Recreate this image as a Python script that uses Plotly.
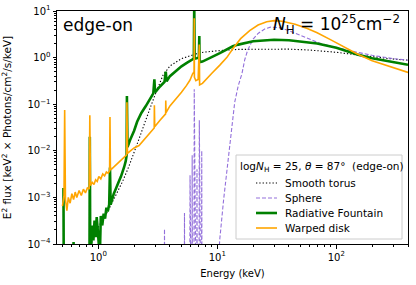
import plotly.graph_objects as go

# ---------------- data ----------------
torus_E = [0.5, 0.7, 0.85, 0.91, 1.0, 1.2, 1.4, 1.6, 1.8, 2.0, 2.2, 2.5, 3.0, 3.5, 4.0, 5.0,
           6.0, 6.3, 6.37, 6.4, 6.43, 6.6, 7.0, 7.1, 7.3, 8.0, 10, 15, 20, 30, 40, 60, 100,
           150, 200, 300, 400]
torus_F = [1e-7, 1e-6, 8e-5, 1.4e-4, 2.3e-4, 5e-4, 1.1e-3, 2.2e-3, 4.5e-3, 9e-3, 0.018, 0.045,
           0.16, 0.42, 0.66, 0.95, 1.12, 1.15, 1.16, 2.8, 1.17, 1.2, 1.22, 1.25, 1.28, 1.32,
           1.4, 1.5, 1.52, 1.53, 1.52, 1.45, 1.3, 1.14, 1.04, 0.93, 0.88]

sphere_E = [3.55, 3.6, 3.65, 5.25, 5.3, 5.35, 5.85, 5.9, 5.95, 6.1, 6.15, 6.2, 6.35, 6.4, 6.45,
            6.7, 6.75, 6.8, 7.0, 7.06, 7.1, 7.35, 7.4, 7.45, 10.0, 10.5, 11.3, 12.2, 13.0, 14.0,
            15.0, 16.1, 17.0, 18.0, 20, 22, 25, 28, 33, 40, 50, 60, 70, 90, 120, 150, 200,
            300, 400]
sphere_F = [1e-7, 2.1e-4, 1e-7, 1e-7, 4.6e-4, 1e-7, 1e-7, 3e-3, 1e-7, 1e-7, 8e-3, 1e-7, 1e-7,
            0.21, 1e-7, 1e-7, 4e-3, 1e-7, 1e-7, 0.045, 1e-7, 1e-7, 0.01, 1e-7, 2e-5, 1.3e-4,
            9e-4, 5e-3, 0.02, 0.11, 0.25, 0.45, 0.9, 1.45, 2.5, 3.3, 4.1, 4.5, 4.4, 3.8, 3.0,
            2.45, 2.1, 1.75, 1.45, 1.3, 1.12, 0.95, 0.88]

fountain_E = [0.51, 0.515, 0.61, 0.62, 0.63, 0.84, 0.849, 0.855, 0.87, 0.89, 0.91, 0.93, 0.95,
              0.97, 0.99, 1.01, 1.03, 1.05, 1.08, 1.11, 1.14, 1.17, 1.2, 1.235, 1.254, 1.27,
              1.3, 1.35, 1.4, 1.45, 1.5, 1.55, 1.6, 1.65, 1.7, 1.73, 1.74, 1.76, 1.85, 2.0,
              2.12, 2.3, 2.5, 2.7, 2.9, 2.96, 3.0, 3.3, 3.6, 3.69, 3.75, 4.0, 4.5, 5.0, 5.5,
              5.9, 6.2, 6.35, 6.4, 6.45, 6.7, 7.0, 7.06, 7.1, 7.5, 8.3, 9.0, 10.5, 13.5, 15,
              20, 25, 30, 40, 50, 69, 100, 150, 200, 300, 400]
fountain_F = [1.6e-3, 1e-6, 1e-6, 1.1e-4, 1e-6, 1e-6, 0.02, 1.5e-4, 8e-5, 2.5e-4, 1.2e-4,
              3.2e-4, 1.4e-4, 3.8e-4, 2e-4, 1e-4, 5e-5, 4e-4, 2.5e-4, 4.5e-4, 3.5e-4, 6e-4,
              5e-4, 7e-4, 4.4e-3, 7e-4, 9e-4, 1.2e-3, 1.5e-3, 1.8e-3, 2.3e-3, 2.8e-3, 3.5e-3,
              4.5e-3, 6e-3, 8e-3, 0.15, 0.012, 0.017, 0.027, 0.042, 0.065, 0.09, 0.13, 0.17,
              0.34, 0.18, 0.24, 0.3, 0.5, 0.31, 0.4, 0.52, 0.65, 0.76, 0.85, 0.9, 0.95, 15,
              0.95, 0.97, 1.0, 2.9, 0.8, 0.82, 0.92, 1.02, 1.25, 1.75, 1.9, 2.25, 2.38, 2.42,
              2.35, 2.22, 2.0, 1.62, 1.17, 0.97, 0.8, 0.7]

warped_E = [0.50, 0.515, 0.522, 0.53, 0.545, 0.56, 0.58, 0.60, 0.62, 0.64, 0.66, 0.69, 0.72,
            0.75, 0.78, 0.81, 0.84, 0.849, 0.86, 0.89, 0.92, 0.95, 0.98, 1.01, 1.05, 1.09,
            1.13, 1.17, 1.21, 1.245, 1.254, 1.265, 1.3, 1.36, 1.42, 1.5, 1.58, 1.66, 1.73,
            1.74, 1.76, 1.85, 2.0, 2.2, 2.5, 2.8, 2.95, 2.96, 2.98, 3.3, 3.68, 3.69, 3.71,
            4.0, 4.5, 5.0, 5.5, 5.9, 6.2, 6.38, 6.4, 6.42, 6.6, 6.9, 7.06, 7.1, 7.5, 8.3,
            9.0, 10.5, 12, 13.5, 15.7, 18.7, 22, 26, 30, 35, 45, 57, 69, 90, 110, 150, 200,
            300, 400]
warped_F = [6.5e-4, 1.1e-3, 0.075, 9e-4, 5.2e-4, 1.0e-3, 7.5e-4, 1.2e-3, 9e-4, 1.3e-3, 1.0e-3,
            1.4e-3, 1.1e-3, 1.5e-3, 1.25e-3, 1.6e-3, 1.5e-3, 0.058, 1.8e-3, 2.1e-3, 1.9e-3,
            2.4e-3, 2.2e-3, 2.8e-3, 2.5e-3, 3.2e-3, 2.9e-3, 3.5e-3, 3.3e-3, 3.7e-3, 0.053,
            3.9e-3, 4.1e-3, 4.6e-3, 5.0e-3, 5.6e-3, 6.4e-3, 7.4e-3, 8.2e-3, 0.11, 8.8e-3,
            0.0098, 0.0115, 0.013, 0.019, 0.027, 0.031, 0.095, 0.033, 0.045, 0.062, 0.12,
            0.066, 0.092, 0.13, 0.18, 0.25, 0.33, 0.45, 0.5, 7.0, 0.38, 0.32, 0.34, 1.9, 0.26,
            0.28, 0.38, 0.46, 0.69, 1.0, 1.55, 2.55, 3.8, 5.0, 5.9, 6.2, 6.05, 5.2, 4.2, 3.4,
            2.4, 1.8, 1.2, 0.86, 0.6, 0.48]

series_names = ["Smooth torus", "Sphere", "Radiative Fountain", "Warped disk"]
legend_title = "log<i>N</i><sub>H</sub> = 25, <i>\u03b8</i> = 87\u00b0  (edge-on)"

x_major = [1, 10, 100]
x_major_text = ["10<sup>0</sup>", "10<sup>1</sup>", "10<sup>2</sup>"]
x_minor = [0.5, 0.6, 0.7, 0.8, 0.9, 2, 3, 4, 5, 6, 7, 8, 9, 20, 30, 40, 50, 60, 70, 80, 90,
           200, 300, 400]
y_major = [1e-4, 1e-3, 1e-2, 1e-1, 1, 10]
y_major_text = ["10<sup>\u22124</sup>", "10<sup>\u22123</sup>", "10<sup>\u22122</sup>",
                "10<sup>\u22121</sup>", "10<sup>0</sup>", "10<sup>1</sup>"]
y_minor = [m * 10.0 ** e for e in range(-4, 1) for m in range(2, 10)]

FONT = "DejaVu Sans"
styles = [dict(color="black", width=1.1, dash="1.3px,2px"),
          dict(color="mediumpurple", width=1.1, dash="4px,2px"),
          dict(color="green", width=2.6),
          dict(color="orange", width=1.6)]

fig = go.Figure()
for xs, ys, nm, st in zip([torus_E, sphere_E, fountain_E, warped_E],
                          [torus_F, sphere_F, fountain_F, warped_F], series_names, styles):
    fig.add_trace(go.Scatter(x=xs, y=ys, mode="lines", name=nm, line=st, showlegend=False))

axis_common = dict(type="log", showgrid=False, zeroline=False, showline=True,
                   linecolor="black", linewidth=1, mirror=True, ticks="outside",
                   ticklen=3.5, tickwidth=0.8, tickcolor="black",
                   tickfont=dict(family=FONT, size=10, color="black"))

fig.update_xaxes(**axis_common, range=[-0.3468, 2.602], tickmode="array",
                 tickvals=x_major, ticktext=x_major_text, automargin=True,
                 minor=dict(tickmode="array", tickvals=x_minor, ticks="outside",
                            ticklen=2, tickwidth=0.6, tickcolor="black"),
                 title=dict(text="Energy (keV)", font=dict(family=FONT, size=10, color="black"),
                            standoff=8))
fig.update_yaxes(**axis_common, range=[-4, 1], tickmode="array",
                 tickvals=y_major, ticktext=y_major_text, automargin=False,
                 minor=dict(tickmode="array", tickvals=y_minor, ticks="outside",
                            ticklen=2, tickwidth=0.6, tickcolor="black"),
                 title=dict(text="E<sup>2</sup> flux [keV<sup>2</sup> \u00d7 Photons/cm<sup>2</sup>/s/keV]",
                            font=dict(family=FONT, size=10.5, color="black")))

# plot-area pixel helpers (plot area: x 57..408, y 11..244)
def px(xp):
    return (xp - 57) / 351.0

def py(yp):
    return (244 - yp) / 233.0

fig.add_annotation(x=px(61), y=py(25), xref="paper", yref="paper", xanchor="left",
                   yanchor="middle", showarrow=False, text="edge-on",
                   font=dict(family=FONT, size=17, color="black"))
fig.add_annotation(x=px(402), y=py(24), xref="paper", yref="paper", xanchor="right",
                   yanchor="middle", showarrow=False,
                   text="<i>N</i><sub>H</sub> = 10<sup>25</sup>cm<sup>\u22122</sup>",
                   font=dict(family=FONT, size=17, color="black"))

# legend box (drawn as shapes + text)
fig.add_shape(type="rect", xref="paper", yref="paper", x0=px(236), x1=px(402),
              y0=py(239), y1=py(155), line=dict(color="#cccccc", width=1),
              fillcolor="rgba(255,255,255,0.85)", layer="above")
fig.add_annotation(x=px(238), y=py(167), xref="paper", yref="paper", xanchor="left",
                   yanchor="middle", showarrow=False, text=legend_title,
                   font=dict(family=FONT, size=10.5, color="black"))
for i, (nm, st) in enumerate(zip(series_names, styles)):
    yy = py(183 + 15 * i)
    fig.add_shape(type="line", xref="paper", yref="paper", x0=px(256), x1=px(277),
                  y0=yy, y1=yy, line=st, layer="above")
    fig.add_annotation(x=px(283), y=yy, xref="paper", yref="paper", xanchor="left",
                       yanchor="middle", showarrow=False, text=nm,
                       font=dict(family=FONT, size=10.5, color="black"))

fig.update_layout(
    width=416, height=285,
    margin=dict(l=57, r=8, t=11, b=41, autoexpand=False),
    paper_bgcolor="white", plot_bgcolor="white",
    font=dict(family=FONT, size=10, color="black"),
    showlegend=False,
)

fig.write_html("out.html", config={"displayModeBar": False},
               post_script="document.body.style.margin='0px';document.body.style.overflow='hidden';")
